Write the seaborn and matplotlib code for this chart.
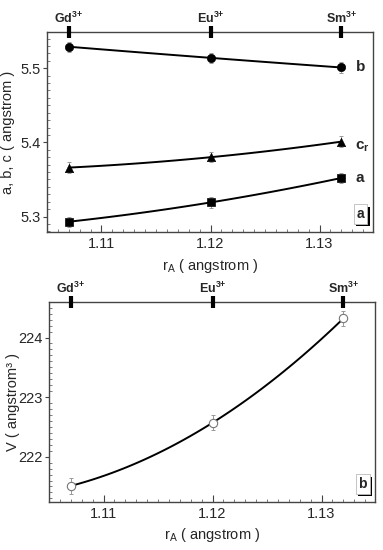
import numpy as np
import pandas as pd
import seaborn as sns
import matplotlib.pyplot as plt
import matplotlib.patheffects as pe
from matplotlib.ticker import MultipleLocator

# ionic radii of the A cation
r_A = [1.107, 1.120, 1.132]
ions = ["Gd", "Eu", "Sm"]

# lattice parameters (angstrom)
b_vals = [5.529, 5.514, 5.501]
c_vals = [5.366, 5.380, 5.401]
a_vals = [5.293, 5.319, 5.352]
abc_err = [0.007, 0.007, 0.007]

# cell volume (angstrom^3)
V_vals = [221.51, 222.57, 224.32]
V_err = [0.13, 0.13, 0.13]

sns.set_style("ticks")
plt.rcParams["font.family"] = ["Liberation Sans", "DejaVu Sans"]
plt.rcParams["mathtext.fontset"] = "custom"
plt.rcParams["mathtext.rm"] = "Liberation Sans"
plt.rcParams["mathtext.bf"] = "Liberation Sans:bold"

fig = plt.figure(figsize=(3.83, 5.5), dpi=100)
ax1 = fig.add_axes([0.1227, 0.578, 0.851, 0.364])
ax2 = fig.add_axes([0.128, 0.0873, 0.851, 0.364])

df = pd.DataFrame({"r": r_A, "a": a_vals, "b": b_vals, "c": c_vals, "V": V_vals})


def style_axes(ax):
    for s in ax.spines.values():
        s.set_linewidth(1.0)
        s.set_color("#444444")
    ax.tick_params(axis="both", which="major", direction="in", length=5,
                   width=0.8, labelsize=10.5, color="#444444")
    ax.tick_params(axis="both", which="minor", direction="in", length=2.5,
                   width=0.6, color="#666666")
    ax.tick_params(axis="y", which="major", direction="out", length=3, pad=1.5)
    ax.xaxis.set_major_locator(MultipleLocator(0.01))
    ax.xaxis.set_minor_locator(MultipleLocator(0.001))
    ax.set_xlim(1.105, 1.1349)


def ion_axis(ax):
    top = ax.twiny()
    top.set_xlim(ax.get_xlim())
    top.set_xticks(r_A)
    top.set_xticklabels([r"$\mathbf{%s^{3{+}}}$" % n for n in ions], fontsize=9)
    top.tick_params(axis="x", direction="inout", length=8, width=3,
                    color="black", pad=0)
    for s in top.spines.values():
        s.set_visible(False)
    return top


def panel_tag(ax, letter):
    t = ax.text(0.962, 0.09, letter, transform=ax.transAxes, fontsize=10,
                fontweight="bold", ha="center", va="center",
                bbox=dict(boxstyle="square,pad=0.2", fc="white", ec="#bbbbbb", lw=0.6))
    t.get_bbox_patch().set_path_effects([
        pe.SimplePatchShadow(offset=(1.8, -1.8), shadow_rgbFace="black", alpha=1.0),
        pe.Normal()])


# ---- panel a ----
style_axes(ax1)
series = [("b", "o", b_vals), ("c", "^", c_vals), ("a", "s", a_vals)]
for col, mk, vals in series:
    ax1.errorbar(r_A, vals, yerr=abc_err, fmt="none", ecolor="#999999",
                 elinewidth=0.7, capsize=1.5, capthick=0.7, zorder=2)
    sns.regplot(data=df, x="r", y=col, order=2, ci=None, scatter=False, ax=ax1,
                line_kws=dict(color="black", lw=1.4, zorder=3))
    sns.scatterplot(data=df, x="r", y=col, marker=mk, s=36, color="black",
                    edgecolor="black", ax=ax1, zorder=4)
ax1.text(1.1333, b_vals[-1], "b", fontsize=11, fontweight="bold", va="center")
ax1.text(1.1333, c_vals[-1] - 0.007, r"$\mathbf{c_r}$", fontsize=11, va="center")
ax1.text(1.1333, a_vals[-1], "a", fontsize=11, fontweight="bold", va="center")
ax1.set_ylim(5.279, 5.549)
ax1.yaxis.set_major_locator(MultipleLocator(0.1))
ax1.yaxis.set_minor_locator(MultipleLocator(0.01))
ax1.set_ylabel("a, b, c ( angstrom )", fontsize=10.5)
ax1.yaxis.set_label_coords(-0.097, 0.5)
ax1.set_xlabel(r"r$_\mathregular{A}$ ( angstrom )", fontsize=10.5, labelpad=4)
ion_axis(ax1)
panel_tag(ax1, "a")

# ---- panel b ----
style_axes(ax2)
ax2.errorbar(r_A, V_vals, yerr=V_err, fmt="none", ecolor="#999999",
             elinewidth=0.7, capsize=1.5, capthick=0.7, zorder=2)
sns.regplot(data=df, x="r", y="V", order=2, ci=None, scatter=False, ax=ax2,
            line_kws=dict(color="black", lw=1.4, zorder=3))
sns.scatterplot(data=df, x="r", y="V", marker="o", s=36, facecolor="white",
                edgecolor="#777777", linewidth=0.8, ax=ax2, zorder=4)
ax2.set_ylim(221.24, 224.6)
ax2.yaxis.set_major_locator(MultipleLocator(1))
ax2.yaxis.set_minor_locator(MultipleLocator(0.1))
ax2.set_ylabel("V ( angstrom\u00b3 )", fontsize=10.5)
ax2.yaxis.set_label_coords(-0.09, 0.5)
ax2.set_xlabel(r"r$_\mathregular{A}$ ( angstrom )", fontsize=10.5, labelpad=4)
ion_axis(ax2)
panel_tag(ax2, "b")

fig.savefig("out.png", dpi=100)
